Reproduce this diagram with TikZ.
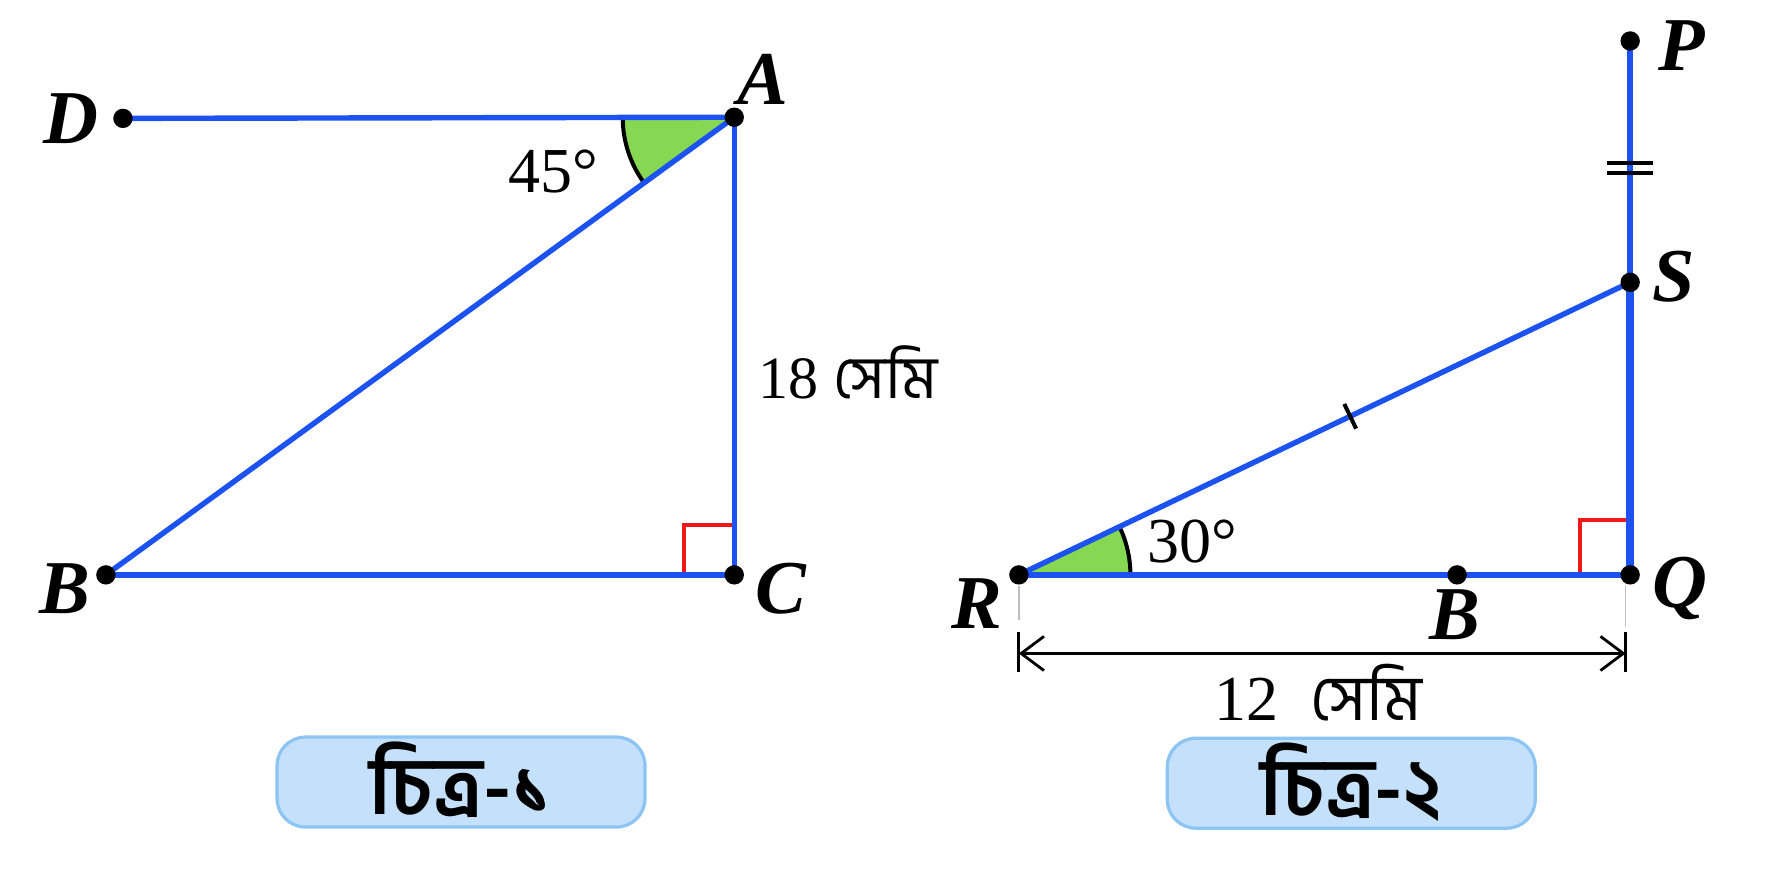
\documentclass[tikz,border=0pt]{standalone}
\usepackage{fontspec}
\setmainfont{Liberation Serif}
\newfontfamily\bangla[Script=Bengali]{Hind Siliguri}
\usetikzlibrary{arrows.meta,calc}

\definecolor{sidecolor}{RGB}{28, 82, 240}
\definecolor{anglecolor}{RGB}{134, 216, 82}
\definecolor{rightcolor}{RGB}{238, 24, 24}
\definecolor{boxfill}{RGB}{196, 224, 250}
\definecolor{boxdraw}{RGB}{140, 196, 244}

\begin{document}
\begin{tikzpicture}[x=0.01cm, y=0.01cm,
    vertex/.style={fill=black, circle, inner sep=0pt, minimum size=0.17cm},
    side/.style={draw=sidecolor, line width=1.35pt},
    vlabel/.style={font=\fontsize{19}{19}\selectfont\bfseries\itshape},
    numlabel/.style={font=\fontsize{16}{16}\selectfont},
    rightangle/.style={draw=rightcolor, line width=1.1pt},
    tickmark/.style={draw=black, line width=1pt},
    dimline/.style={line width=0.7pt, {Straight Barb[length=0.2cm, width=0.3cm]}-{Straight Barb[length=0.2cm, width=0.3cm]}},
    captionbox/.style={draw=boxdraw, fill=boxfill, rounded corners=0.25cm, line width=0.8pt,
        minimum width=3.23cm, inner ysep=0.1cm, text height=0.58cm, text depth=0.01cm,
        font=\fontsize{20}{20}\selectfont\bangla\bfseries}
    ]
    \useasboundingbox (0,0) rectangle (1568,-774);

    % Define points
    \foreach \name/\x/\y in {D/108/-104, A/645/-103, B/93/-505, C/645/-505,
        P/1432/-36, S/1432/-248, Q/1432/-505, R/895/-505, M/1280/-505} {
        \coordinate (\name) at (\x,\y);
    }

    % Angles
    \pgfmathanglebetweenpoints{\pgfpointanchor{A}{center}}{\pgfpointanchor{B}{center}}
    \let\angleAB\pgfmathresult
    \pgfmathanglebetweenpoints{\pgfpointanchor{R}{center}}{\pgfpointanchor{S}{center}}
    \let\angleRS\pgfmathresult
    \fill[anglecolor] (A) -- ++(180:98) arc[start angle=180, end angle=\angleAB, radius=98] -- cycle;
    \fill[anglecolor] (R) -- ++(0:98) arc[start angle=0, end angle=\angleRS, radius=98] -- cycle;
    \draw[line width=1pt] (A) ++(180:98) arc[start angle=180, end angle=\angleAB, radius=98];
    \draw[line width=1pt] (R) ++(0:98) arc[start angle=0, end angle=\angleRS, radius=98];

    % Right angles
    \draw[rightangle] (C) ++(-44,0) -- ++(0,44) -- ++(44,0);
    \draw[rightangle] (Q) ++(-44,0) -- ++(0,48) -- ++(44,0);

    % Sides
    \draw[side] (D) -- (A);
    \draw[side] (A) -- (C);
    \draw[side] (B) -- (C);
    \draw[side] (A) -- (B);
    \draw[side] (P) -- (S);
    \draw[side, line width=1.9pt] (S) -- (Q);
    \draw[side] (R) -- (Q);
    \draw[side] (R) -- (S);

    % Equal marks
    \draw[tickmark] ($(R)!0.542!(S)$) ++(\angleRS+90:12) -- ++(\angleRS-90:24);
    \draw[tickmark] ($(P)!0.505!(S)$) ++(-20,0) -- ++(40,0);
    \draw[tickmark] ($(P)!0.547!(S)$) ++(-20,0) -- ++(40,0);

    % Measure of RQ
    \coordinate (dimL) at ([yshift=-0.69cm]R);
    \coordinate (dimR) at ([xshift=-0.04cm, yshift=-0.69cm]Q);
    \draw[gray!50, line width=0.4pt] ([yshift=-0.1cm]R) -- ([yshift=-0.4cm]R);
    \draw[gray!50, line width=0.4pt] ([xshift=-0.04cm, yshift=-0.1cm]Q) -- ([xshift=-0.04cm, yshift=-0.46cm]Q);
    \draw[line width=0.8pt] ([yshift=-0.5cm]R) -- ([yshift=-0.85cm]R);
    \draw[line width=0.8pt] ([xshift=-0.04cm, yshift=-0.5cm]Q) -- ([xshift=-0.04cm, yshift=-0.85cm]Q);
    \draw[dimline] (dimL) -- (dimR);

    % Vertices
    \foreach \name in {D,A,B,C,P,S,Q,R,M} {
        \node[vertex] (V\name) at (\name) {};
    }

    % Labels
    \foreach [count = \i] \txt/\x/\y in {A/670/-70, D/62/-104, B/57/-517, C/686/-517,
        P/1477/-40, S/1470/-243, Q/1476/-517, R/858/-530, B/1278/-540} {
        \node[vlabel] (L\i) at (\x,\y) {\txt};
    }
    \node[numlabel] (a45) at (486,-151) {45°};
    \node[numlabel] (a30) at (1047,-476) {30°};
    \node[numlabel, font=\fontsize{15}{15}\selectfont] (AC) at (745,-327) {18 {\bangla সেমি}};
    \node[numlabel] (RQ) at (1158,-608) {12\ \ {\bangla সেমি}};

    % Captions
    \node[captionbox] (cap1) at (405,-687) {চিত্র-১};
    \node[captionbox] (cap2) at (1187,-688) {চিত্র-২};
\end{tikzpicture}
\end{document}
